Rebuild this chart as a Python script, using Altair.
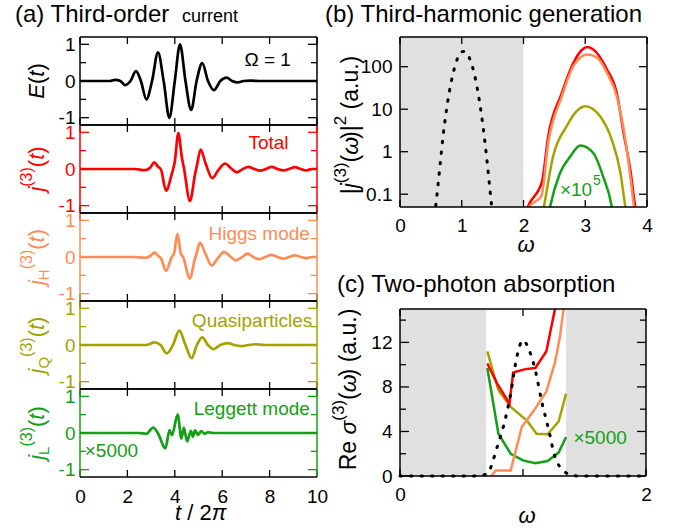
import altair as alt
import pandas as pd

FONT = "Liberation Sans"
RED = "#FF0000"
ORANGE = "#FF8C55"
OLIVE = "#A3A300"
GREEN = "#14A014"
GRAY = "#E0E0E0"

# ---------------- panel (a) data: t / 2pi ----------------
E_t = [0, 1.0, 1.25, 1.48, 1.7, 1.9, 2.13, 2.36, 2.57, 2.8, 3.04, 3.29, 3.53, 3.77, 4.0, 4.22,
       4.45, 4.69, 4.92, 5.16, 5.4, 5.65, 5.92, 6.19, 6.42, 6.65, 6.9, 7.2, 7.6, 10]
E_v = [0, 0, 0.0, 0.03, 0, -0.11, 0, 0.27, 0, -0.5, 0, 0.78, 0, -1.0, 0, 1.0,
       0, -0.79, 0, 0.49, 0, -0.25, 0, 0.09, 0, -0.04, 0, 0.01, 0, 0]

T_t = [0, 2.3, 2.74, 2.95, 3.14, 3.28, 3.42, 3.63, 3.87, 4.0, 4.15, 4.3, 4.38, 4.64, 4.85, 4.95,
       5.09, 5.3, 5.58, 5.85, 6.12, 6.37, 6.61, 6.85, 7.1, 7.35, 7.6, 7.85, 8.09, 8.33, 8.58,
       8.82, 9.07, 9.31, 9.56, 9.8, 10]
T_v = [0, 0, -0.03, 0.03, 0.18, 0.07, -0.02, -0.59, -0.14, 0.2, 0.98, 0.3, 0.05, -0.87, -0.16, 0.15,
       0.53, 0.15, -0.25, -0.02, 0.15, 0.02, -0.09, -0.01, 0.06, 0.0, -0.045, 0.0, 0.06, 0.0, -0.04,
       0.0, 0.05, 0.0, -0.04, 0.0, 0]

H_t = [0, 2.3, 2.74, 2.95, 3.14, 3.3, 3.42, 3.63, 3.87, 3.97, 4.11, 4.25, 4.35, 4.64, 4.83, 4.92,
       5.06, 5.3, 5.55, 5.82, 6.08, 6.33, 6.57, 6.82, 7.07, 7.31, 7.56, 7.82, 8.08, 8.33, 8.58,
       8.82, 9.07, 9.31, 9.56, 9.8, 10]
H_v = [0, 0, -0.02, 0.02, 0.12, 0.03, -0.04, -0.38, 0.0, 0.1, 0.63, 0.1, 0.0, -0.59, -0.1, 0.1,
       0.39, 0.08, -0.23, -0.03, 0.14, 0.02, -0.09, -0.01, 0.09, 0.0, -0.06, 0.0, 0.06, 0.0, -0.045,
       0.0, 0.045, 0.0, -0.03, 0.0, 0]

Q_t = [0, 2.5, 2.8, 3.14, 3.4, 3.66, 3.92, 4.19, 4.45, 4.71, 4.93, 5.16, 5.4, 5.63, 5.92, 6.26,
       6.5, 6.8, 7.1, 7.4, 7.8, 10]
Q_v = [0, 0, 0.0, 0.07, 0.0, -0.23, 0.0, 0.39, 0.0, -0.36, 0.0, 0.21, 0.0, -0.11, 0.0, 0.05,
       0.0, -0.03, 0.0, 0.02, 0, 0]

L_t = [0, 2.5, 2.8, 3.09, 3.3, 3.6, 3.78, 3.88, 4.12, 4.28, 4.38, 4.52, 4.68, 4.76, 4.86, 4.98,
       5.12, 5.25, 5.4, 5.6, 10]
L_v = [0, 0, -0.02, 0.15, -0.02, -0.42, 0.08, -0.06, 0.5, -0.15, 0.15, -0.23, 0.06, -0.1, 0.07, -0.05,
       0.05, -0.02, 0.02, 0, 0]

# ---------------- panel (b) data: |j(w)|^2 ----------------
B_black_w = [0.5, 0.55, 0.6, 0.65, 0.7, 0.75, 0.8, 0.85, 0.9, 0.95, 1.0, 1.05, 1.1, 1.15, 1.2,
             1.25, 1.3, 1.35, 1.4, 1.45, 1.5, 1.55]
B_black_v = [0.01, 0.025, 0.1, 0.5, 2.5, 9, 26, 60, 115, 180, 225, 230, 190, 128, 71,
             32, 11.5, 3.4, 0.8, 0.16, 0.03, 0.005]
B_red_w = [2.02, 2.07, 2.3, 2.4, 2.62, 2.81, 2.95, 3.03, 3.12, 3.35, 3.51, 3.62, 3.73, 3.81, 3.86]
B_red_v = [0.03, 0.05, 0.2, 2.3, 24, 125, 250, 290, 260, 87, 24, 2.8, 0.37, 0.05, 0.02]
B_org_w = [2.04, 2.09, 2.29, 2.4, 2.62, 2.81, 3.03, 3.2, 3.35, 3.51, 3.65, 3.73, 3.79, 3.84]
B_org_v = [0.03, 0.05, 0.09, 1.6, 20, 105, 195, 160, 72, 20, 1.9, 0.26, 0.05, 0.02]
B_olv_w = [2.3, 2.33, 2.48, 2.7, 2.86, 3.0, 3.24, 3.43, 3.57, 3.65, 3.7]
B_olv_v = [0.03, 0.05, 0.78, 4, 9, 11.8, 6.8, 1.9, 0.32, 0.05, 0.02]
B_grn_w = [2.4, 2.43, 2.59, 2.76, 2.92, 3.13, 3.29, 3.43, 3.47]
B_grn_v = [0.03, 0.05, 0.31, 0.78, 1.4, 0.93, 0.26, 0.05, 0.02]

# ---------------- panel (c) data: Re sigma(w) ----------------
C_black_w = [0, 0.6, 0.65, 0.71, 0.79, 0.86, 0.9, 0.95, 1.0, 1.05, 1.1, 1.15, 1.21, 1.26, 1.33, 1.38, 1.45, 2.0]
C_black_v = [0, 0, 0.02, 0.24, 2.6, 5.3, 7.4, 10.7, 12.2, 11.3, 9.5, 6.8, 4.1, 1.7, 0.5, 0.1, 0, 0]
C_red_w = [0.71, 0.79, 0.89, 0.92, 1.02, 1.1, 1.19, 1.26, 1.28]
C_red_v = [10.1, 8.3, 6.5, 9.3, 9.6, 9.7, 11.2, 15, 16]
C_org_w = [0.74, 0.78, 0.9, 0.99, 1.09, 1.19, 1.26, 1.3, 1.33, 1.34]
C_org_v = [0, 0.5, 0.5, 4.4, 5.9, 7.6, 10.2, 12.5, 15, 16]
C_olv_w = [0.71, 0.8, 0.9, 1.03, 1.11, 1.2, 1.29, 1.35]
C_olv_v = [11.2, 7.7, 6.2, 5.0, 3.8, 3.75, 4.9, 7.4]
C_grn_w = [0.71, 0.8, 0.9, 1.0, 1.1, 1.2, 1.29, 1.35]
C_grn_v = [9.7, 3.8, 2.0, 1.4, 1.15, 1.35, 2.1, 3.5]

B_shade = [(0, 2)]
C_shade = [(0, 0.7), (1.35, 2)]

# ---------------- layout ----------------
W_A, H_A = 237, 88
W_B, H_B = 247, 170
W_C, H_C = 246, 167
TICK_FS = 19
TITLE_FS = 22
SUP_FS = 16
SUB_FS = 15
SUP = 12
SUB = -5
BC_FS = 23
BC_SUP_FS = 17

one = pd.DataFrame({"k": [0]})

CW = {' ': .278, '(': .333, ')': .333, '/': .278, '|': .26, '.': .278, 'E': .667, 'H': .722,
      'L': .556, 'Q': .778, 'R': .722, 'a': .556, 'e': .556, 'j': .222, 't': .278, 'u': .556,
      'ω': .69, 'σ': .6, 'π': .6, '2': .556, '3': .556}


def tw(s, size):
    return sum(CW.get(c, 0.556) for c in s) * size


def split_lead(txt, size):
    s = txt.lstrip(' ')
    return s, (len(txt) - len(s)) * CW[' '] * size


def rot_title(pieces, xb, yc, color):
    L = sum(tw(p[0], p[1]) for p in pieces)
    y = yc + L / 2
    out = []
    for txt, size, ital, shift in pieces:
        s, lead = split_lead(txt, size)
        y -= lead
        out.append(alt.Chart(one).mark_text(
            text=s, angle=270, align="left", baseline="alphabetic", font=FONT,
            fontSize=size, fontStyle="italic" if ital else "normal", color=color
        ).encode(x=alt.value(xb - shift), y=alt.value(y)))
        y -= tw(s, size)
    return out


def hor_text(pieces, xc, yb, color="black"):
    L = sum(tw(p[0], p[1]) for p in pieces)
    x = xc - L / 2
    out = []
    for txt, size, ital, shift in pieces:
        s, lead = split_lead(txt, size)
        x += lead
        out.append(alt.Chart(one).mark_text(
            text=s, align="left", baseline="alphabetic", font=FONT,
            fontSize=size, fontStyle="italic" if ital else "normal", color=color
        ).encode(x=alt.value(x), y=alt.value(yb - shift)))
        x += tw(s, size)
    return out


def plain_text(txt, x, y, size, color="black"):
    return alt.Chart(one).mark_text(text=txt, align="left", baseline="alphabetic", font=FONT,
                                    fontSize=size, color=color).encode(x=alt.value(x), y=alt.value(y))


def frame(W, H, side, tb="black"):
    sw = 1.5
    return [
        alt.Chart(one).mark_rule(color=side, strokeWidth=sw).encode(x=alt.value(0), y=alt.value(0), y2=alt.value(H)),
        alt.Chart(one).mark_rule(color=side, strokeWidth=sw).encode(x=alt.value(W), y=alt.value(0), y2=alt.value(H)),
        alt.Chart(one).mark_rule(color=tb, strokeWidth=sw).encode(x=alt.value(0), x2=alt.value(W), y=alt.value(0)),
        alt.Chart(one).mark_rule(color=tb, strokeWidth=sw).encode(x=alt.value(0), x2=alt.value(W), y=alt.value(H)),
    ]


def yticks(Y, field, vals, length, color, W):
    df = pd.DataFrame({field: vals})
    return [
        alt.Chart(df).mark_rule(color=color, strokeWidth=1.3).encode(y=Y, x=alt.value(0), x2=alt.value(length)),
        alt.Chart(df).mark_rule(color=color, strokeWidth=1.3).encode(y=Y, x=alt.value(W), x2=alt.value(W - length)),
    ]


def xticks(X, field, vals, length, color, H):
    df = pd.DataFrame({field: vals})
    return [
        alt.Chart(df).mark_rule(color=color, strokeWidth=1.3).encode(x=X, y=alt.value(0), y2=alt.value(length)),
        alt.Chart(df).mark_rule(color=color, strokeWidth=1.3).encode(x=X, y=alt.value(H), y2=alt.value(H - length)),
    ]


def jtitle(sub):
    p = [("j", TITLE_FS, True, 0)]
    if sub:
        p.append((sub, SUB_FS, False, SUB))
    p += [("(3)", SUP_FS, False, SUP), ("(", TITLE_FS, False, 0), ("t", TITLE_FS, True, 0),
          (")", TITLE_FS, False, 0)]
    return p


def axis_common(**kw):
    return alt.Axis(labelFontSize=TICK_FS, labelFont=FONT, ticks=False, domain=False, grid=False,
                    title=None, labelFlush=False, **kw)


def panel_a(t, v, color, title_pieces, label, lx, ly, bottom=False, top=False):
    xaxis = axis_common(values=[0, 2, 4, 6, 8, 10], format="d", labelPadding=10,
                        labelColor="black") if bottom else None
    X = alt.X("t:Q", scale=alt.Scale(domain=[0, 10], nice=False, zero=False), axis=xaxis)
    Y = alt.Y("v:Q", scale=alt.Scale(domain=[-1.2, 1.2], nice=False, zero=False),
              axis=axis_common(values=[-1, 0, 1], format="d", labelColor=color, labelPadding=5,
                               labelExpr="replace(datum.label, '\u2212', '-')"))
    df = pd.DataFrame({"t": t, "v": v})
    layers = []
    layers.append(alt.Chart(df).mark_line(color=color, strokeWidth=2.7, interpolate="monotone").encode(x=X, y=Y))
    layers += yticks(Y, "v", [-1, 0, 1], 9, color, W_A)
    layers += yticks(Y, "v", [-0.5, 0.5], 6, color, W_A)
    layers += xticks(X, "t", [0, 2, 4, 6, 8, 10], 7, "black", H_A)
    layers += frame(W_A, H_A, color)
    ldf = pd.DataFrame({"t": [lx], "v": [ly]})
    layers.append(alt.Chart(ldf).mark_text(text=label, align="right", baseline="middle", font=FONT,
                                          fontSize=TICK_FS, color=color).encode(x=X, y=Y))
    layers += rot_title(title_pieces, -36, H_A / 2, color)
    if bottom:
        xdf = pd.DataFrame({"t": [0.2], "v": [-0.5]})
        layers.append(alt.Chart(xdf).mark_text(text="×5000", align="left", baseline="middle", font=FONT,
                                              fontSize=TICK_FS, color=color).encode(x=X, y=Y))
        layers += hor_text([("t", TITLE_FS, True, 0), (" / 2", TITLE_FS, False, 0), ("π", TITLE_FS, True, 0)],
                           120, H_A + 43)
    if top:
        layers.append(plain_text("(a) Third-order", -65, -15, 24))
        layers.append(plain_text("current", 102, -15, 18))
    return alt.layer(*layers).properties(width=W_A, height=H_A)


pa = [
    panel_a(E_t, E_v, "black", [("E", TITLE_FS, True, 0), ("(", TITLE_FS, False, 0), ("t", TITLE_FS, True, 0),
                                (")", TITLE_FS, False, 0)], "Ω = 1", 8.9, 0.57, top=True),
    panel_a(T_t, T_v, RED, jtitle(None), "Total", 8.8, 0.7),
    panel_a(H_t, H_v, ORANGE, jtitle("H"), "Higgs mode", 9.7, 0.64),
    panel_a(Q_t, Q_v, OLIVE, jtitle("Q"), "Quasiparticles", 9.8, 0.65),
    panel_a(L_t, L_v, GREEN, jtitle("L"), "Leggett mode", 9.7, 0.65, bottom=True),
]
left = alt.vconcat(*pa, spacing=0, bounds="flush")

# ---------------- panel (b) ----------------
Xb = alt.X("w:Q", scale=alt.Scale(domain=[0, 4], nice=False, zero=False),
           axis=axis_common(values=[0, 1, 2, 3, 4], format="d", labelPadding=9))
Yb = alt.Y("v:Q", scale=alt.Scale(type="log", domain=[0.05, 500], nice=False),
           axis=axis_common(values=[0.1, 1, 10, 100], format="~g", labelPadding=8))
bl = []
bl.append(alt.Chart(pd.DataFrame({"w": [s[0] for s in B_shade], "w2": [s[1] for s in B_shade]}))
          .mark_rect(color=GRAY).encode(x=Xb, x2="w2:Q", y=alt.value(0), y2=alt.value(H_B)))
for ws, vs, col in [(B_red_w, B_red_v, RED), (B_org_w, B_org_v, ORANGE), (B_olv_w, B_olv_v, OLIVE),
                    (B_grn_w, B_grn_v, GREEN)]:
    bl.append(alt.Chart(pd.DataFrame({"w": ws, "v": vs})).mark_line(
        color=col, strokeWidth=2.5, clip=True, interpolate="monotone").encode(x=Xb, y=Yb))
bl.append(alt.Chart(pd.DataFrame({"w": B_black_w, "v": B_black_v})).mark_line(
    color="black", strokeWidth=3, strokeDash=[1.5, 9], strokeCap="round", clip=True,
    interpolate="monotone").encode(x=Xb, y=Yb))
bl += yticks(Yb, "v", [0.1, 1, 10, 100], 8, "black", W_B)
bl += xticks(Xb, "w", [0, 1, 2, 3, 4], 7, "black", H_B)
bl += frame(W_B, H_B, "black")
bl.append(alt.Chart(pd.DataFrame({"w": [2.59], "v": [0.126]})).mark_text(
    text="×10", align="left", baseline="middle", font=FONT, fontSize=TICK_FS, color=GREEN).encode(x=Xb, y=Yb))
bl.append(alt.Chart(pd.DataFrame({"w": [2.59], "v": [0.126]})).mark_text(
    text="5", align="left", baseline="middle", font=FONT, fontSize=14, color=GREEN, dx=33, dy=-9).encode(x=Xb, y=Yb))
bl += rot_title([("|", BC_FS, False, 0), ("j", BC_FS, True, 0), ("(3)", BC_SUP_FS, False, SUP),
                 ("(", BC_FS, False, 0), ("ω", BC_FS, True, 0), (")", BC_FS, False, 0),
                 ("|", BC_FS, False, 0), ("2", BC_SUP_FS, False, SUP), (" (a.u.)", BC_FS, False, 0)],
                -42, H_B / 2 + 3, "black")
bl += hor_text([("ω", TITLE_FS, True, 0)], 125, H_B + 45)
bl.append(plain_text("(b) Third-harmonic generation", -75, -15, 24))
pb = alt.layer(*bl).properties(width=W_B, height=H_B)

# ---------------- panel (c) ----------------
Xc = alt.X("w:Q", scale=alt.Scale(domain=[0, 2], nice=False, zero=False),
           axis=axis_common(values=[0, 1, 2], format="d", labelPadding=9))
Yc = alt.Y("v:Q", scale=alt.Scale(domain=[0, 15], nice=False, zero=False),
           axis=axis_common(values=[0, 4, 8, 12], format="d", labelPadding=8))
cl = []
cl.append(alt.Chart(pd.DataFrame({"w": [s[0] for s in C_shade], "w2": [s[1] for s in C_shade]}))
          .mark_rect(color=GRAY).encode(x=Xc, x2="w2:Q", y=alt.value(0), y2=alt.value(H_C)))
for ws, vs, col in [(C_grn_w, C_grn_v, GREEN), (C_olv_w, C_olv_v, OLIVE), (C_org_w, C_org_v, ORANGE),
                    (C_red_w, C_red_v, RED)]:
    cl.append(alt.Chart(pd.DataFrame({"w": ws, "v": vs})).mark_line(
        color=col, strokeWidth=2.5, clip=True).encode(x=Xc, y=Yc))
cl.append(alt.Chart(pd.DataFrame({"w": C_black_w, "v": C_black_v})).mark_line(
    color="black", strokeWidth=3, strokeDash=[1.5, 9], strokeCap="round",
    interpolate="monotone").encode(x=Xc, y=Yc))
cl += yticks(Yc, "v", [0, 4, 8, 12], 9, "black", W_C)
cl += yticks(Yc, "v", [2, 6, 10, 14], 6, "black", W_C)
cl += xticks(Xc, "w", [0, 1, 2], 7, "black", H_C)
cl += frame(W_C, H_C, "black")
cl.append(alt.Chart(pd.DataFrame({"w": [1.41], "v": [3.4]})).mark_text(
    text="×5000", align="left", baseline="middle", font=FONT, fontSize=TICK_FS, color=GREEN).encode(x=Xc, y=Yc))
cl += rot_title([("Re ", BC_FS, False, 0), ("σ", BC_FS, True, 0), ("(3)", BC_SUP_FS, False, SUP),
                 ("(", BC_FS, False, 0), ("ω", BC_FS, True, 0), (")", BC_FS, False, 0),
                 (" (a.u.)", BC_FS, False, 0)], -44, H_C / 2 - 3, "black")
cl += hor_text([("ω", TITLE_FS, True, 0)], 126, H_C + 47)
cl.append(plain_text("(c) Two-photon absorption", -63, -17, 24))
pc = alt.layer(*cl).properties(width=W_C, height=H_C)

right = alt.vconcat(pb, pc, spacing=102, bounds="flush")

chart = alt.hconcat(left, right, spacing=320, bounds="flush").properties(
    padding={"left": 15, "top": 3, "right": 0, "bottom": 0}
).configure_view(stroke=None).configure_axis(labelFont=FONT).configure_text(font=FONT)

chart.save("out.html", embed_options={"renderer": "svg", "actions": False})
